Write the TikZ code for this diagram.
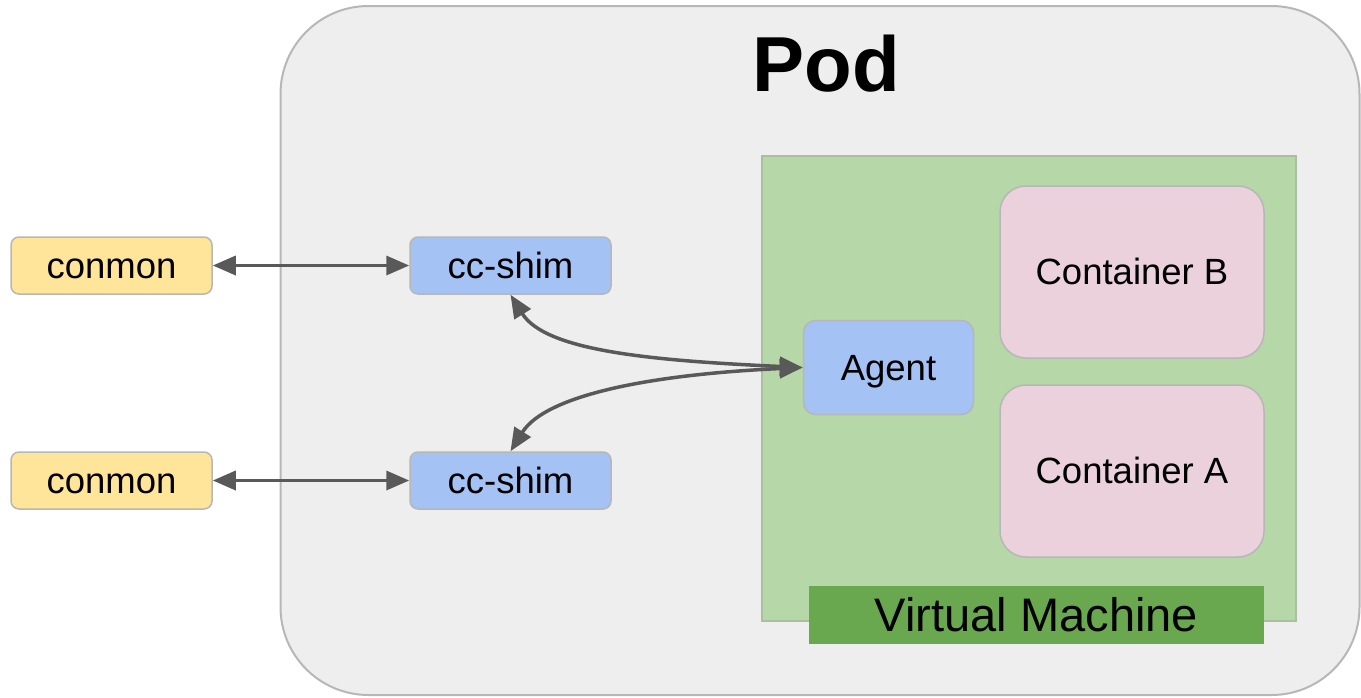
\documentclass[tikz,border=0pt]{standalone}
\usepackage{fontspec}
\setmainfont{Liberation Sans}
\usetikzlibrary{arrows.meta}
\definecolor{podfill}{HTML}{EEEEEE}
\definecolor{podline}{HTML}{B7B7B7}
\definecolor{boxline}{HTML}{B7B7B7}
\definecolor{conmonc}{HTML}{FFE599}
\definecolor{bluec}{HTML}{A4C2F4}
\definecolor{vmfill}{HTML}{B6D7A8}
\definecolor{vmline}{HTML}{A9BFA0}
\definecolor{contc}{HTML}{EAD1DC}
\definecolor{vmlabel}{HTML}{6AA84F}
\definecolor{arrowc}{HTML}{595959}
\begin{document}
\begin{tikzpicture}[x=1pt,y=-1pt,
  box/.style={draw=boxline, line width=1.5pt, rounded corners=8pt, inner sep=0pt, text=black,
    font=\fontsize{36.5}{40}\selectfont, text height=33pt, text depth=7.7pt},
  conbox/.style={box, fill=conmonc, minimum width=201pt, minimum height=57pt},
  shimbox/.style={box, fill=bluec, minimum width=201pt, minimum height=57pt},
  agentbox/.style={box, fill=bluec, rounded corners=12pt, minimum width=170pt, minimum height=94pt},
  contbox/.style={box, fill=contc, rounded corners=26pt, minimum width=264pt, minimum height=172pt},
  conn/.style={draw=arrowc, line width=3.5pt,
    {Triangle[length=23pt,width=19pt]}-{Triangle[length=23pt,width=19pt]}}
]
\useasboundingbox (0,0) rectangle (1361,697);
% Pod
\node[draw=podline, line width=2pt, fill=podfill, rounded corners=88pt,
  minimum width=1079pt, minimum height=689pt, inner sep=0pt] (pod) at (820,350.5) {};
\node[font=\bfseries\fontsize{78}{80}\selectfont, inner sep=0pt, anchor=base] (podtitle) at (826,91) {Pod};
% Virtual machine
\node[draw=vmline, fill=vmfill, line width=1.5pt, minimum width=534pt, minimum height=465pt,
  inner sep=0pt] (vm) at (1029,388.5) {};
\node[fill=vmlabel, minimum width=455pt, minimum height=58pt, inner sep=0pt,
  text height=42.5pt, text depth=10pt,
  font=\fontsize{47}{50}\selectfont] (vmlabel) at (1036.5,615) {Virtual Machine};
\node[contbox] (contB) at (1132,272) {Container B};
\node[contbox] (contA) at (1132,471) {Container A};
\node[agentbox] (agent) at (888.5,367.5) {Agent};
% shims and conmons
\node[shimbox] (shim1) at (510.5,265.5) {cc-shim};
\node[shimbox] (shim2) at (510.5,480.5) {cc-shim};
\node[conbox] (conmon1) at (111.5,265.5) {conmon};
\node[conbox] (conmon2) at (111.5,480.5) {conmon};
% connectors
\draw[conn] (conmon1.east) -- (shim1.west);
\draw[conn] (conmon2.east) -- (shim2.west);
\draw[conn] (shim1.south) .. controls +(35,56) and +(-153,-7) .. (agent.west);
\draw[conn] (shim2.north) .. controls +(35,-56) and +(-153,7) .. (agent.west);
\end{tikzpicture}
\end{document}
